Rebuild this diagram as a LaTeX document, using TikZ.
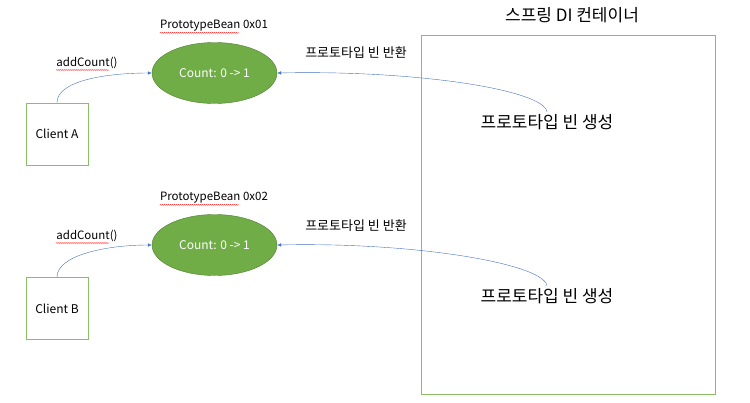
\documentclass[tikz,border=0pt]{standalone}
\usepackage{fontspec}
\setmainfont{Noto Sans CJK KR}
\usetikzlibrary{arrows.meta,shapes.geometric,decorations.pathmorphing}
\definecolor{boxgreen}{RGB}{140,190,105}
\definecolor{beanfill}{RGB}{112,173,71}
\definecolor{beanline}{RGB}{80,126,50}
\definecolor{arrowblue}{RGB}{68,114,196}

\begin{document}
\begin{tikzpicture}[x=1pt,y=-1pt]
        \tikzset{client/.style={draw=boxgreen, thick, minimum width=62pt, minimum height=62pt, inner sep=0pt, font=\fontsize{12}{14}\selectfont},
                 bean/.style={ellipse, draw=beanline, fill=beanfill, minimum width=125pt, minimum height=61pt, inner sep=0pt, text=white, font=\fontsize{12}{14}\selectfont},
                 small/.style={inner sep=0pt, font=\fontsize{11.5}{14}\selectfont},
                 kor/.style={inner sep=0pt, font=\fontsize{13}{15}\selectfont},
                 big/.style={inner sep=0pt, font=\fontsize{17}{20}\selectfont},
                 call/.style={-{Latex[length=4pt, width=3.5pt]}, arrowblue, thin},
                 squiggle/.style={red, line width=0.3pt, decorate, decoration={snake, segment length=2pt, amplitude=0.5pt}}}
        \useasboundingbox (0,0) rectangle (750,402);

        % container
        \node[draw=boxgreen, thick, minimum width=294pt, minimum height=359pt, inner sep=0pt] (di) at (568,214.5) {};
        \node[big] (ditxt) at (572,15) {스프링 DI 컨테이너};
        \node[big] (genA) at (547,122) {프로토타입 빈 생성};
        \node[big] (genB) at (547,296) {프로토타입 빈 생성};

        % clients
        \node[client] (ca) at (57,134) {Client A};
        \node[client] (cb) at (57,308.5) {Client B};

        % beans
        \node[bean] (ea) at (214.5,73) {Count: 0 -> 1};
        \node[bean] (eb) at (214.5,245) {Count: 0 -> 1};
        \node[small] (pba) at (214,26) {PrototypeBean 0x01};
        \node[small] (pbb) at (214,198) {PrototypeBean 0x02};
        \node[small] (adda) at (87,63) {addCount()};
        \node[small] (addb) at (87,236) {addCount()};
        \node[kor] (reta) at (356,53) {프로토타입 빈 반환};
        \node[kor] (retb) at (356,226) {프로토타입 빈 반환};

        % spell check marks
        \draw[squiggle] ([yshift=-1pt]pba.south west) -- +(79,0);
        \draw[squiggle] ([yshift=-1pt]pbb.south west) -- +(79,0);
        \draw[squiggle] ([yshift=-1pt]adda.south west) -- +(53,0);
        \draw[squiggle] ([yshift=-1pt]addb.south west) -- +(53,0);

        % calls
        \draw[call] (ca.north) .. controls +(0,-22) and +(-45,0) .. (ea.west);
        \draw[call] (cb.north) .. controls +(0,-22) and +(-45,0) .. (eb.west);
        \draw[call] ([yshift=2pt]genA.north) .. controls +(-2,-22) and +(140,-3) .. (ea.east);
        \draw[call] ([yshift=2pt]genB.north) .. controls +(-2,-22) and +(140,-3) .. (eb.east);
\end{tikzpicture}
\end{document}
